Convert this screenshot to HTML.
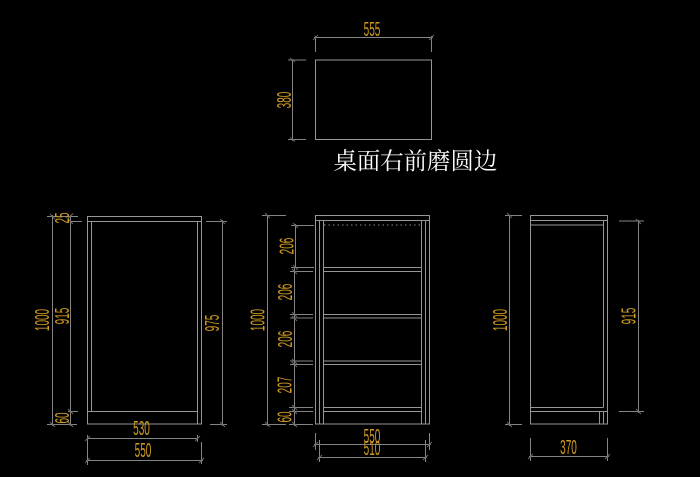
<!DOCTYPE html>
<html lang="zh"><head><meta charset="utf-8"><title>桌面</title>
<style>
html,body{margin:0;padding:0;background:#000;width:700px;height:477px;overflow:hidden}
svg{display:block}
.l{fill:none;stroke:#858585;stroke-width:1}
.k{fill:none;stroke:#686868;stroke-width:1}
.b{fill:none;stroke:#969696;stroke-width:1}
.t{font-family:"Liberation Sans",sans-serif;font-size:20px;fill:#cf9a22;text-anchor:middle}
.c{font-family:"Liberation Serif","Noto Serif CJK SC",serif;font-size:23.4px;fill:#fff}
</style></head><body>
<svg width="700" height="477" viewBox="0 0 700 477" xmlns="http://www.w3.org/2000/svg">
<rect width="700" height="477" fill="#000"/>

<!-- top view -->
<path class="b" d="M315.5 60H431.5V139.5H315.5Z"/>
<path class="l" d="M315.5 36V52M431.5 36V52M314 37.5H433M288 60H306M288 139.5H306M292.5 59V141"/>
<path class="k" d="M313 40L318 35M429 40L434 35M290 58L295 62M290 137.5L295 141.5"/>
<text class="c" x="333.5" y="169">桌面右前磨圆边</text>
<text class="t" transform="translate(372,29) scale(.5,1)" y="7">555</text>
<text class="t" transform="translate(284,100) rotate(-90) scale(.5,1)" y="7">380</text>

<!-- left view -->
<path class="b" d="M87.5 216.5H201.5V424H87.5ZM87.5 221.5H201.5M91.5 221.5V411.5M197.5 221.5V424M87.5 411.5H197.5"/>
<path class="l" d="M52.5 215V426M47 216.5H78M47 424.5H77M70.5 215V426M70 221.5H82M68 411.5H78
M222.5 220V426M206 221.5H227M210 424.5H227
M87.5 435V465M197.5 435V442M87 438.5H198
M201.5 442V464M86 460.5H203"/>
<path class="k" d="M50 214L55 219M50 422L55 427M68 219L73 224M68 409L73 414M68 422L73 427M68 218.5L73 213.5
M220 219L225 224M220 422L225 427M85 441L90 436M195 441L200 436M85 463L90 458M199 463L204 458"/>
<text class="t" transform="translate(42,320) rotate(-90) scale(.5,1)" y="7">1000</text>
<text class="t" transform="translate(62,316) rotate(-90) scale(.5,1)" y="7">915</text>
<text class="t" transform="translate(62,218) rotate(-90) scale(.5,1)" y="7">25</text>
<text class="t" transform="translate(62,418) rotate(-90) scale(.5,1)" y="7">60</text>
<text class="t" transform="translate(212,323) rotate(-90) scale(.5,1)" y="7">975</text>
<text class="t" transform="translate(141.5,428) scale(.5,1)" y="7">530</text>
<text class="t" transform="translate(143,450) scale(.5,1)" y="7">550</text>

<!-- middle view -->
<path class="b" d="M315.5 215.5H429.5V424H315.5ZM315.5 220.5H429.5M319.5 220.5V424M323.5 220.5V424M421.5 220.5V424M425.5 220.5V424
M323.5 267.5H421.5M323.5 271.5H421.5M323.5 314.5H421.5M323.5 318H421.5M323.5 361H421.5M323.5 364.5H421.5M323.5 407.5H421.5M323.5 411.5H421.5"/>
<path d="M324 225H421" fill="none" stroke="#8a8a8a" stroke-width="1" stroke-dasharray="1.5 3"/>
<path class="l" d="M267.5 215V426M262 215.5H286M262 424.5H286
M295.5 224V268M294.5 268V426M291 225.5H314M291 267.5H314M290 271.5H313M290 314.5H313M290 318H313M290 361H313M290 364.5H313M289 407.5H313M289 411.5H313M289 424.5H313
M315.5 433V450M429.5 433V450M314 444.5H431
M319.5 440V462M425.5 440V462M318 457.5H427"/>
<path class="k" d="M265 213L270 218M265 422L270 427M293 223L298 228M293 265L298 270M292 269L297 274M292 312L297 317M292 316L297 321M292 359L297 364M292 362L297 367M292 405L297 410M292 409L297 414M292 422L297 427
M313 447L318 442M427 447L432 442M317 460L322 455M423 460L428 455"/>
<text class="t" transform="translate(257.5,320) rotate(-90) scale(.5,1)" y="7">1000</text>
<text class="t" transform="translate(286.5,246) rotate(-90) scale(.5,1)" y="7">206</text>
<text class="t" transform="translate(285,292) rotate(-90) scale(.5,1)" y="7">206</text>
<text class="t" transform="translate(285,339) rotate(-90) scale(.5,1)" y="7">206</text>
<text class="t" transform="translate(284.5,385) rotate(-90) scale(.5,1)" y="7">207</text>
<text class="t" transform="translate(284.5,417) rotate(-90) scale(.5,1)" y="7">60</text>
<text class="t" transform="translate(372,436) scale(.5,1)" y="7">550</text>
<text class="t" transform="translate(372,448) scale(.5,1)" y="7">510</text>

<!-- right view -->
<path class="b" d="M530.5 215.5H607.5V424H530.5ZM530.5 220.5H607.5M530.5 225H603.5M603.5 220.5V407.5M530.5 407.5H603.5M530.5 411.5H607.5M599.5 411.5V424M603.5 411.5V424"/>
<path class="l" d="M509.5 215V426M505 215.5H522M505 424.5H522
M638.5 220V413M619 221H644M619 411.5H644
M530.5 438V461M607.5 438V461M529 456.5H609"/>
<path class="k" d="M507 213L512 218M507 422L512 427M636 219L641 224M636 409L641 414M528 459L533 454M605 459L610 454"/>
<text class="t" transform="translate(500,320) rotate(-90) scale(.5,1)" y="7">1000</text>
<text class="t" transform="translate(628.5,316) rotate(-90) scale(.5,1)" y="7">915</text>
<text class="t" transform="translate(568.5,447) scale(.5,1)" y="7">370</text>
</svg>
</body></html>
